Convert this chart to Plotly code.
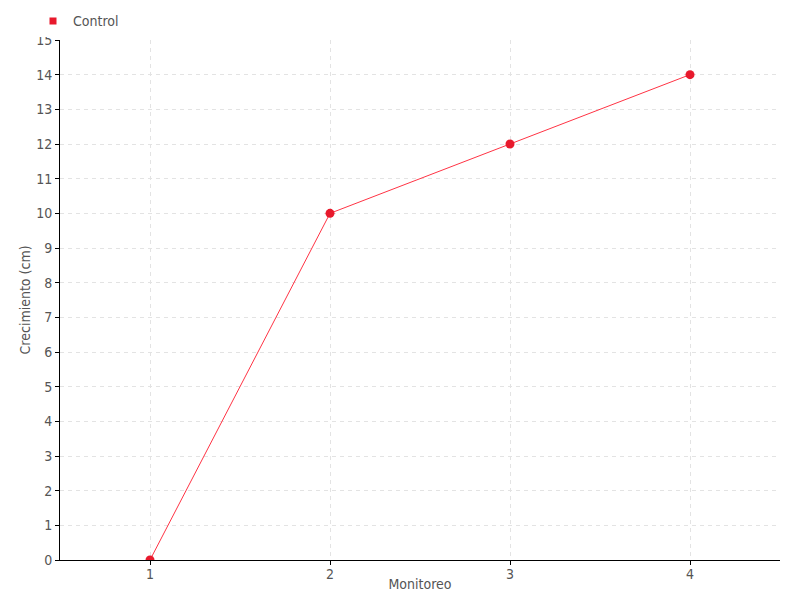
import plotly.graph_objects as go

monitoreo = [1, 2, 3, 4]
crecimiento = [0, 10, 12, 14]

font_family = "Liberation Sans Narrow, DejaVu Sans Condensed, Roboto, sans-serif"

fig = go.Figure()
fig.add_trace(go.Scatter(x=monitoreo, y=crecimiento, mode='lines+markers', name='Control',
                         line=dict(width=1, color='#ff3344'),
                         marker=dict(size=9, color='#e8192c'), showlegend=False))
# legend entry drawn as a small square only
fig.add_trace(go.Scatter(x=[None], y=[None], mode='markers', name='Control',
                         marker=dict(size=7, symbol='square', color='#e8192c')))

fig.update_xaxes(range=[0.5, 4.5], tickvals=monitoreo, showline=True, linecolor='black',
                 linewidth=1, ticks='outside', ticklen=4, tickcolor='black',
                 showgrid=True, gridcolor='#e3e3e3', griddash='4px,4px', zeroline=False,
                 automargin=False, ticklabelstandoff=-3,
                 title=dict(text='Monitoreo', standoff=0, font=dict(size=14)),
                 tickfont=dict(color='#555555', size=14))
fig.update_yaxes(range=[0, 15], dtick=1, showline=True, linecolor='black',
                 linewidth=1, ticks='outside', ticklen=4, tickcolor='black',
                 showgrid=True, gridcolor='#e3e3e3', griddash='4px,4px', zeroline=False,
                 automargin=False,
                 tickfont=dict(color='#555555', size=14))

# y title placed close to the tick labels, as in the original
fig.add_annotation(text='Crecimiento (cm)', textangle=-90, xref='paper', yref='paper',
                   x=-0.048, y=0.5, xanchor='center', yanchor='middle', showarrow=False,
                   font=dict(size=14, color='#555555'))

# page body adds 8px around the figure, so size and margins are reduced by that
fig.update_layout(width=784, height=584,
                  margin=dict(l=52, r=12, t=32, b=32, autoexpand=False),
                  plot_bgcolor='white', paper_bgcolor='white',
                  font=dict(family=font_family, color='#555555', size=14),
                  showlegend=True,
                  legend=dict(x=-0.0375, y=1.005, xanchor='left', yanchor='bottom',
                              orientation='h', font=dict(size=14),
                              itemwidth=30))
fig.write_html("out.html")
